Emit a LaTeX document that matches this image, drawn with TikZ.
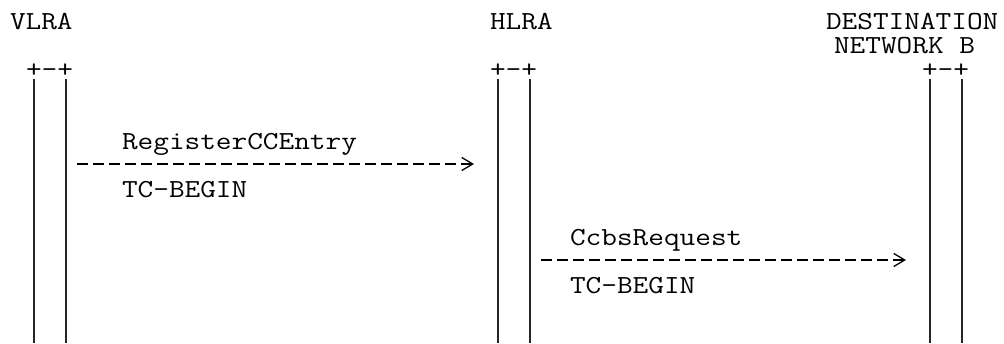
\documentclass[tikz,border=0pt]{standalone}
\usepackage{fontspec}
\newfontfamily\asciifont[FakeStretch=1.17]{Latin Modern Mono}
\usetikzlibrary{arrows.meta}

\tikzset{
  txt/.style={anchor=base west, inner sep=0pt, outer sep=0pt, font=\asciifont\fontsize{26}{30}\selectfont},
  bar/.style={line width=1.3pt, black!85},
  msg/.style={line width=1.3pt, dash pattern=on 11pt off 5pt, -{Straight Barb[length=11pt, width=13pt, sep=12pt]}},
}

\begin{document}
\begin{tikzpicture}[x=1pt, y=-1pt]
\newcommand{\colW}{16}
\newcommand{\rowH}{24}
\useasboundingbox (0, 0) rectangle (1004, 343);

\node [txt] (0) at (10, 29.5) {VLRA};
\node [txt] (1) at (10+30*\colW, 29.5) {HLRA};
\node [txt] (2) at (10+51*\colW, 29.5) {DESTINATION};
\node [txt] (3) at (10+51.5*\colW, 29.5+\rowH) {NETWORK B};

\node [txt] (4) at (10+1*\colW, 29.5+2*\rowH) {+-+};
\node [txt] (5) at (10+30*\colW, 29.5+2*\rowH) {+-+};
\node [txt] (6) at (10+57*\colW, 29.5+2*\rowH) {+-+};

\coordinate (7) at (34, 79);
\coordinate (8) at (34, 343);
\coordinate (9) at (66, 79);
\coordinate (10) at (66, 343);
\coordinate (11) at (498, 79);
\coordinate (12) at (498, 343);
\coordinate (13) at (530, 79);
\coordinate (14) at (530, 343);
\coordinate (15) at (930, 79);
\coordinate (16) at (930, 343);
\coordinate (17) at (962, 79);
\coordinate (18) at (962, 343);

\draw [bar] (7) to (8);
\draw [bar] (9) to (10);
\draw [bar] (11) to (12);
\draw [bar] (13) to (14);
\draw [bar] (15) to (16);
\draw [bar] (17) to (18);

% RegisterCCEntry
\coordinate (19) at (76.5, 164);
\coordinate (20) at (486, 164);
\draw [msg] (19) to (20);
\node [txt] (21) at (10+7*\colW, 29.5+5*\rowH) {RegisterCCEntry};
\node [txt] (22) at (10+7*\colW, 29.5+7*\rowH) {TC-BEGIN};

% CcbsRequest
\coordinate (23) at (540.5, 260);
\coordinate (24) at (918, 260);
\draw [msg] (23) to (24);
\node [txt] (25) at (10+35*\colW, 29.5+9*\rowH) {CcbsRequest};
\node [txt] (26) at (10+35*\colW, 29.5+11*\rowH) {TC-BEGIN};
\end{tikzpicture}
\end{document}
